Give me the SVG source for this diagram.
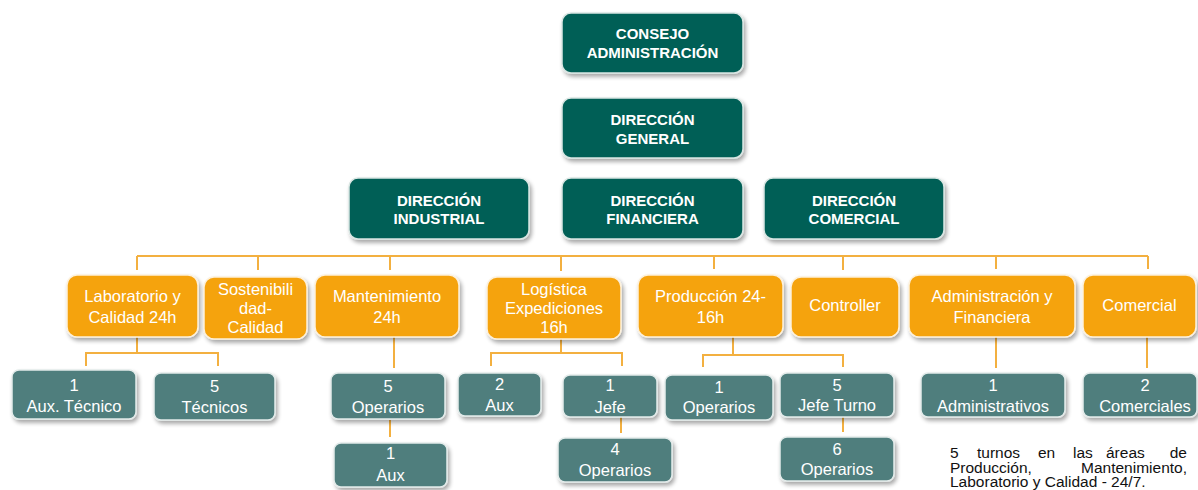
<svg xmlns="http://www.w3.org/2000/svg" width="1198" height="490" viewBox="0 0 1198 490">
  <defs>
    <filter id="shadow" x="-10%" y="-10%" width="125%" height="140%">
      <feGaussianBlur in="SourceAlpha" stdDeviation="2"/>
      <feOffset dx="1.5" dy="3" result="off"/>
      <feComponentTransfer><feFuncA type="linear" slope="0.35"/></feComponentTransfer>
      <feMerge><feMergeNode/><feMergeNode in="SourceGraphic"/></feMerge>
    </filter>
  </defs>
  <style>
    .dir rect { fill: #035f56; stroke: #d9e6e3; stroke-width: 1.5; filter: url(#shadow); }
    .dir text { fill: #ffffff; font-family: "Liberation Sans", Arial, sans-serif; font-weight: bold; font-size: 15px; text-anchor: middle; }
    .dep rect { fill: #f5a30f; stroke: #fdf1dc; stroke-width: 1.5; filter: url(#shadow); }
    .dep text { fill: #ffffff; font-family: "Liberation Sans", Arial, sans-serif; font-size: 16.5px; text-anchor: middle; }
    .staff rect { fill: #4f7e7d; stroke: #e3ebea; stroke-width: 1.5; filter: url(#shadow); }
    .staff text { fill: #ffffff; font-family: "Liberation Sans", Arial, sans-serif; font-size: 16.5px; text-anchor: middle; }
    .links { fill: none; stroke: #f3b040; stroke-width: 2; }
    .note { fill: #111111; font-family: "Liberation Sans", Arial, sans-serif; font-size: 15.5px; }
  </style>

  <rect width="1198" height="490" fill="#ffffff"/>

  <!-- connectors -->
  <g id="connectors" class="links">
    <path d="M137 256 H1148"/>
    <path d="M137 256 V270 M258 256 V270 M390 256 V270 M561 256 V271 M714 256 V269 M843 256 V270 M996 256 V269 M1148 256 V269"/>
    <!-- Laboratorio -->
    <path d="M137 337 V353 M86 366 V353 H218 V366"/>
    <!-- Mantenimiento -->
    <path d="M394 337 V368 M390 420 V437"/>
    <!-- Logistica -->
    <path d="M561 339 V353 M491 366 V353 H622 V366 M621 417 V433"/>
    <!-- Produccion -->
    <path d="M733 337 V355 M703 367 V355 H843 V367 M843 417 V432"/>
    <!-- Administracion / Comercial -->
    <path d="M996 337 V368 M1147 337 V368"/>
  </g>

  <!-- board and directorates -->
  <g id="consejo" class="dir">
    <rect x="562" y="13" width="181" height="60" rx="9"/>
    <text x="652.5" y="39">CONSEJO</text>
    <text x="652.5" y="57.5">ADMINISTRACIÓN</text>
  </g>
  <g id="direccion-general" class="dir">
    <rect x="562" y="98" width="181" height="60" rx="9"/>
    <text x="652.5" y="124.5">DIRECCIÓN</text>
    <text x="652.5" y="143.5">GENERAL</text>
  </g>
  <g id="direccion-industrial" class="dir">
    <rect x="349" y="178" width="180" height="61" rx="9"/>
    <text x="439" y="205.5">DIRECCIÓN</text>
    <text x="439" y="223.5">INDUSTRIAL</text>
  </g>
  <g id="direccion-financiera" class="dir">
    <rect x="562" y="178" width="181" height="61" rx="9"/>
    <text x="652.5" y="205.5">DIRECCIÓN</text>
    <text x="652.5" y="223.5">FINANCIERA</text>
  </g>
  <g id="direccion-comercial" class="dir">
    <rect x="764" y="178" width="180" height="61" rx="9"/>
    <text x="854" y="205.5">DIRECCIÓN</text>
    <text x="854" y="223.5">COMERCIAL</text>
  </g>

  <!-- departments -->
  <g id="laboratorio" class="dep">
    <rect x="67" y="275" width="131" height="62" rx="10"/>
    <text x="132.5" y="302">Laboratorio y</text>
    <text x="132.5" y="323">Calidad 24h</text>
  </g>
  <g id="sostenibilidad" class="dep">
    <rect x="204" y="277" width="103" height="62" rx="10"/>
    <text x="255.5" y="295">Sostenibili</text>
    <text x="255.5" y="314">dad-</text>
    <text x="255.5" y="333">Calidad</text>
  </g>
  <g id="mantenimiento" class="dep">
    <rect x="315" y="275" width="144" height="62" rx="10"/>
    <text x="387" y="302">Mantenimiento</text>
    <text x="387" y="323">24h</text>
  </g>
  <g id="logistica" class="dep">
    <rect x="487" y="277" width="134" height="62" rx="10"/>
    <text x="554" y="295">Logística</text>
    <text x="554" y="314">Expediciones</text>
    <text x="554" y="333">16h</text>
  </g>
  <g id="produccion" class="dep">
    <rect x="638" y="275" width="145" height="62" rx="10"/>
    <text x="710.5" y="302">Producción 24-</text>
    <text x="710.5" y="323">16h</text>
  </g>
  <g id="controller" class="dep">
    <rect x="791" y="277" width="108" height="60" rx="10"/>
    <text x="845" y="311">Controller</text>
  </g>
  <g id="administracion" class="dep">
    <rect x="909" y="275" width="166" height="62" rx="10"/>
    <text x="992" y="302">Administración y</text>
    <text x="992" y="323">Financiera</text>
  </g>
  <g id="comercial" class="dep">
    <rect x="1083" y="275" width="113" height="62" rx="10"/>
    <text x="1139.5" y="311">Comercial</text>
  </g>

  <!-- staff -->
  <g id="aux-tecnico" class="staff">
    <rect x="12" y="370" width="124" height="49" rx="7"/>
    <text x="74" y="391">1</text>
    <text x="74" y="411.5">Aux. Técnico</text>
  </g>
  <g id="tecnicos" class="staff">
    <rect x="154" y="373" width="121" height="47" rx="7"/>
    <text x="214.5" y="392">5</text>
    <text x="214.5" y="413">Técnicos</text>
  </g>
  <g id="mant-operarios" class="staff">
    <rect x="331" y="373" width="114" height="46" rx="7"/>
    <text x="388" y="392">5</text>
    <text x="388" y="413">Operarios</text>
  </g>
  <g id="mant-aux" class="staff">
    <rect x="334" y="443" width="113" height="44" rx="7"/>
    <text x="390.5" y="459">1</text>
    <text x="390.5" y="481">Aux</text>
  </g>
  <g id="log-aux" class="staff">
    <rect x="458" y="373" width="83" height="43" rx="7"/>
    <text x="499.5" y="390">2</text>
    <text x="499.5" y="411">Aux</text>
  </g>
  <g id="log-jefe" class="staff">
    <rect x="563" y="375" width="94" height="42" rx="7"/>
    <text x="610" y="391">1</text>
    <text x="610" y="412.5">Jefe</text>
  </g>
  <g id="log-operarios" class="staff">
    <rect x="558" y="438" width="114" height="44" rx="7"/>
    <text x="615" y="455">4</text>
    <text x="615" y="476">Operarios</text>
  </g>
  <g id="prod-operarios" class="staff">
    <rect x="665" y="375" width="108" height="45" rx="7"/>
    <text x="719" y="393">1</text>
    <text x="719" y="413">Operarios</text>
  </g>
  <g id="prod-jefe-turno" class="staff">
    <rect x="780" y="373" width="114" height="44" rx="7"/>
    <text x="837" y="391">5</text>
    <text x="837" y="411">Jefe Turno</text>
  </g>
  <g id="prod-operarios-6" class="staff">
    <rect x="780" y="437" width="114" height="44" rx="7"/>
    <text x="837" y="455">6</text>
    <text x="837" y="475">Operarios</text>
  </g>
  <g id="administrativos" class="staff">
    <rect x="921" y="373" width="144" height="44" rx="7"/>
    <text x="993" y="391">1</text>
    <text x="993" y="412">Administrativos</text>
  </g>
  <g id="comerciales" class="staff">
    <rect x="1083" y="373" width="114" height="44" rx="7"/>
    <text x="1145" y="391">2</text>
    <text x="1145" y="412">Comerciales</text>
  </g>

  <!-- shift note, justified -->
  <g id="nota" class="note">
    <text x="950" y="458">5</text>
    <text x="977" y="458">turnos</text>
    <text x="1038" y="458">en</text>
    <text x="1073" y="458">las</text>
    <text x="1106" y="458">áreas</text>
    <text x="1187" y="458" text-anchor="end">de</text>
    <text x="950" y="472.5">Producción,</text>
    <text x="1187" y="472.5" text-anchor="end">Mantenimiento,</text>
    <text x="950" y="486.5">Laboratorio y Calidad - 24/7.</text>
  </g>
</svg>
